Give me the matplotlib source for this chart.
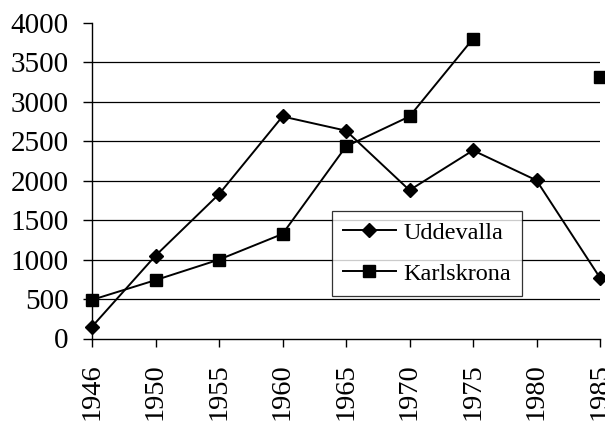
import numpy as np
import matplotlib
matplotlib.use("Agg")
import matplotlib.pyplot as plt

years = ["1946", "1950", "1955", "1960", "1965", "1970", "1975", "1980", "1985"]
uddevalla = [150, 1050, 1830, 2815, 2635, 1880, 2385, 2005, 770]
karlskrona = [490, 740, 1000, 1325, 2435, 2815, 3800, np.nan, 3320]
yticks = [0, 500, 1000, 1500, 2000, 2500, 3000, 3500, 4000]

plt.rcParams['font.family'] = ['Liberation Serif', 'DejaVu Serif']

fig = plt.figure(figsize=(6.05, 4.24), dpi=100)
ax = fig.add_axes([92/605, (424-338.5)/424, (600-92)/605, (338.5-23)/424])

x = np.arange(len(years))
for y in yticks[1:-1]:
    ax.axhline(y, color='black', lw=0.9, zorder=1)

ax.plot(x, uddevalla, color='black', lw=1.4, marker='D', markersize=7.5, label='Uddevalla', zorder=3, clip_on=False)
ax.plot(x, karlskrona, color='black', lw=1.4, marker='s', markersize=9, label='Karlskrona', zorder=3, clip_on=False)

ax.set_xlim(0, len(years) - 1)
ax.set_ylim(0, 4000)
ax.set_xticks(x)
ax.set_xticklabels(years, rotation=90, fontsize=20.5)
ax.set_yticks(yticks)
ax.set_yticklabels([str(v) for v in yticks], fontsize=21)
ax.tick_params(axis='both', direction='out', width=1, color='black')
ax.tick_params(axis='x', length=6, pad=12)
ax.tick_params(axis='y', length=6.5, pad=10.5)
for s in ['top', 'right']:
    ax.spines[s].set_visible(False)
for s in ['left', 'bottom']:
    ax.spines[s].set_linewidth(1)
    ax.spines[s].set_color('black')

leg = ax.legend(loc='lower left', bbox_to_anchor=(0.472, 0.135, 0.374, 0.27), mode='expand',
                fontsize=17.5, frameon=True, fancybox=False, edgecolor='black',
                borderpad=0.45, handlelength=2.2, labelspacing=0.78, handletextpad=0.3, borderaxespad=0)
leg.get_frame().set_linewidth(0.9)
leg.set_zorder(5)

fig.savefig('out.png', dpi=100, facecolor='white')
